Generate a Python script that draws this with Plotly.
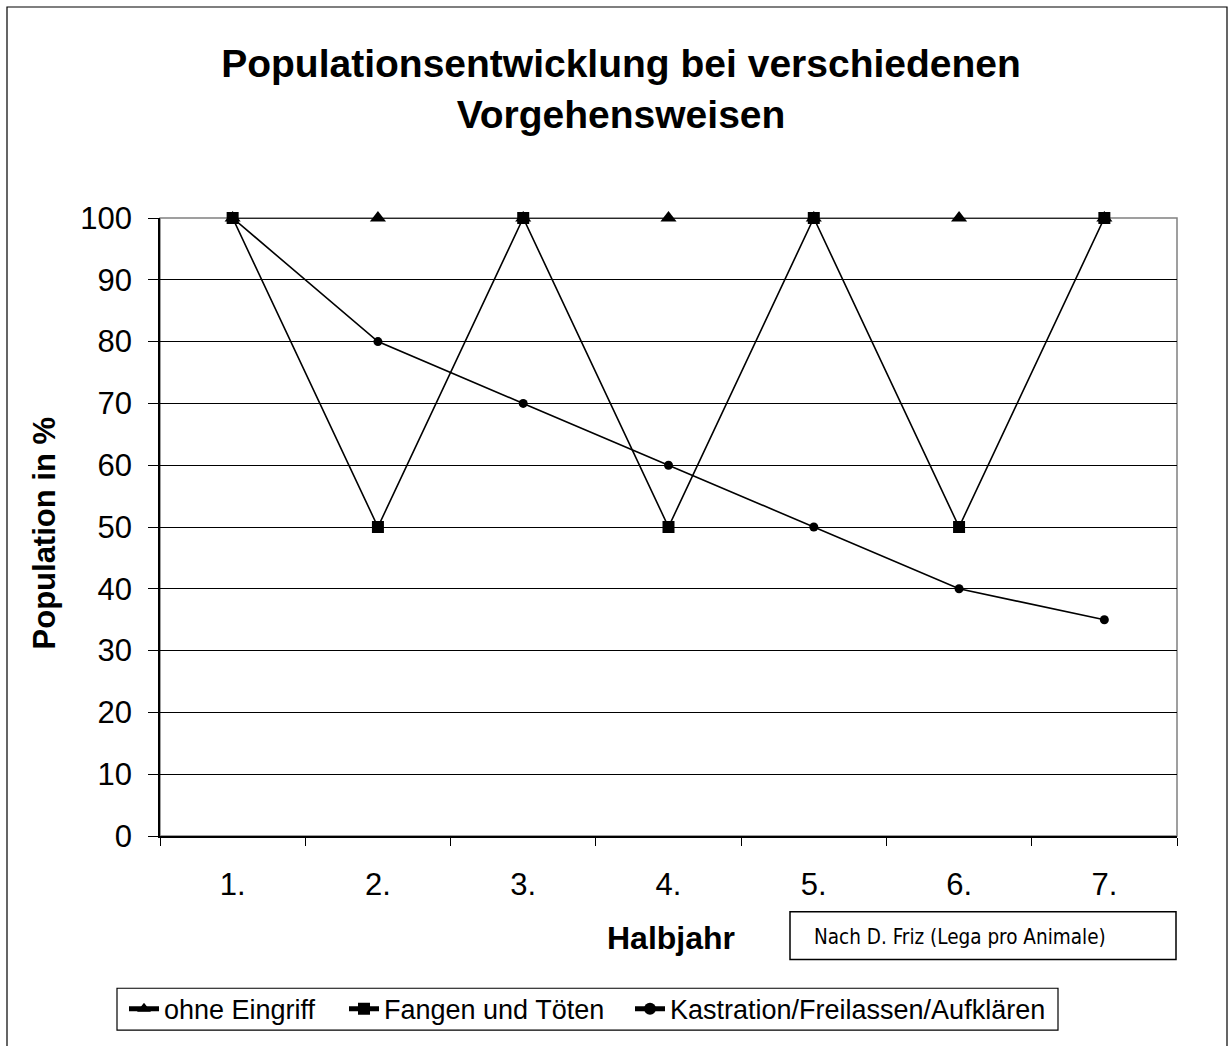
import plotly.graph_objects as go

halbjahre = ["1.", "2.", "3.", "4.", "5.", "6.", "7."]
ohne_eingriff = [100, 100, 100, 100, 100, 100, 100]
fangen_toeten = [100, 50, 100, 50, 100, 50, 100]
kastration = [100, 80, 70, 60, 50, 40, 35]
y_ticks = [0, 10, 20, 30, 40, 50, 60, 70, 80, 90, 100]

FONT = "Liberation Sans, Arial, sans-serif"

fig = go.Figure()
fig.add_trace(go.Scatter(
    x=halbjahre, y=ohne_eingriff, name="ohne Eingriff", mode="lines+markers",
    line=dict(color="black", width=1.6), cliponaxis=False, legend="legend",
    marker=dict(symbol="triangle-up", size=14, color="black")))
fig.add_trace(go.Scatter(
    x=halbjahre, y=kastration, name="Kastration/Freilassen/Aufklären", mode="lines+markers",
    line=dict(color="black", width=1.6), cliponaxis=False, legend="legend3",
    marker=dict(symbol="circle", size=9, color="black")))
fig.add_trace(go.Scatter(
    x=halbjahre, y=fangen_toeten, name="Fangen und Töten", mode="lines+markers",
    line=dict(color="black", width=1.6), cliponaxis=False, legend="legend2",
    marker=dict(symbol="square", size=12, color="black")))

L, R, T, B = 160, 53, 218, 207
W, H = 1230, 1046
pw, ph = W - L - R, H - T - B

def px(x):
    return (x - L) / pw

def py(y):
    return (H - B - y) / ph

def leg(x_left):
    return dict(orientation="h", x=px(x_left), xanchor="left", y=py(1013), yanchor="middle",
                font=dict(size=27, family=FONT), bgcolor="rgba(0,0,0,0)",
                borderwidth=0, itemsizing="constant")

fig.update_layout(
    width=W, height=H,
    margin=dict(l=L, r=R, t=T, b=B),
    paper_bgcolor="white", plot_bgcolor="white",
    font=dict(family=FONT, color="black"),
    title=dict(
        text="<b>Populationsentwicklung bei verschiedenen<br>Vorgehensweisen</b>",
        x=621 / W, xanchor="center", xref="container",
        y=1 - 77 / H, yanchor="middle", yref="container",
        font=dict(size=39, family=FONT, color="black")),
    xaxis=dict(
        type="category", tickson="boundaries", range=[-0.5, 6.5],
        showline=True, linecolor="black", linewidth=1.5,
        ticks="outside", ticklen=8, tickcolor="black", tickwidth=1,
        ticklabelstandoff=20,
        showgrid=False, tickfont=dict(size=31, family=FONT)),
    yaxis=dict(
        range=[0, 100], tickvals=y_ticks,
        showline=True, linecolor="black", linewidth=1.5,
        ticks="outside", ticklen=10, tickcolor="black", tickwidth=1,
        ticklabelstandoff=10,
        showgrid=True, gridcolor="black", gridwidth=1.2,
        zeroline=False, tickfont=dict(size=31, family=FONT)),
    showlegend=True,
    legend=leg(124),
    legend2=leg(344),
    legend3=leg(630),
)

shapes = []
# outer chart frame
shapes.append(dict(type="rect", xref="paper", yref="paper",
                   x0=px(7), x1=px(1227), y0=py(1060), y1=py(6),
                   line=dict(color="black", width=1.2), layer="below"))
# plot area frame (grey)
shapes.append(dict(type="rect", xref="paper", yref="paper",
                   x0=0, x1=1, y0=0, y1=1,
                   line=dict(color="#808080", width=1.5), layer="between"))
# legend box
shapes.append(dict(type="rect", xref="paper", yref="paper",
                   x0=px(117), x1=px(1058), y0=py(1034), y1=py(992),
                   line=dict(color="black", width=1.2), layer="below"))
# source box
shapes.append(dict(type="rect", xref="paper", yref="paper",
                   x0=px(790), x1=px(1176), y0=py(963), y1=py(915),
                   line=dict(color="black", width=1.5), layer="below"))
fig.update_layout(shapes=shapes)

fig.add_annotation(text="<b>Population in %</b>", textangle=-90,
                   xref="paper", yref="paper", x=px(44), y=py(535),
                   xanchor="center", yanchor="middle", showarrow=False,
                   font=dict(size=31, family=FONT, color="black"))
fig.add_annotation(text="<b>Halbjahr</b>",
                   xref="paper", yref="paper", x=px(671), y=py(941),
                   xanchor="center", yanchor="middle", showarrow=False,
                   font=dict(size=32, family=FONT, color="black"))
fig.add_annotation(text="Nach D. Friz (Lega pro Animale)",
                   xref="paper", yref="paper", x=px(812), y=py(940),
                   xanchor="left", yanchor="middle", showarrow=False,
                   font=dict(size=20.5, family="Liberation Sans Narrow, DejaVu Sans Condensed, Liberation Sans, sans-serif", color="black"))

fig.write_html("out.html", config={"displayModeBar": False},
               post_script="document.body.style.margin='0';document.body.style.overflow='hidden';")
